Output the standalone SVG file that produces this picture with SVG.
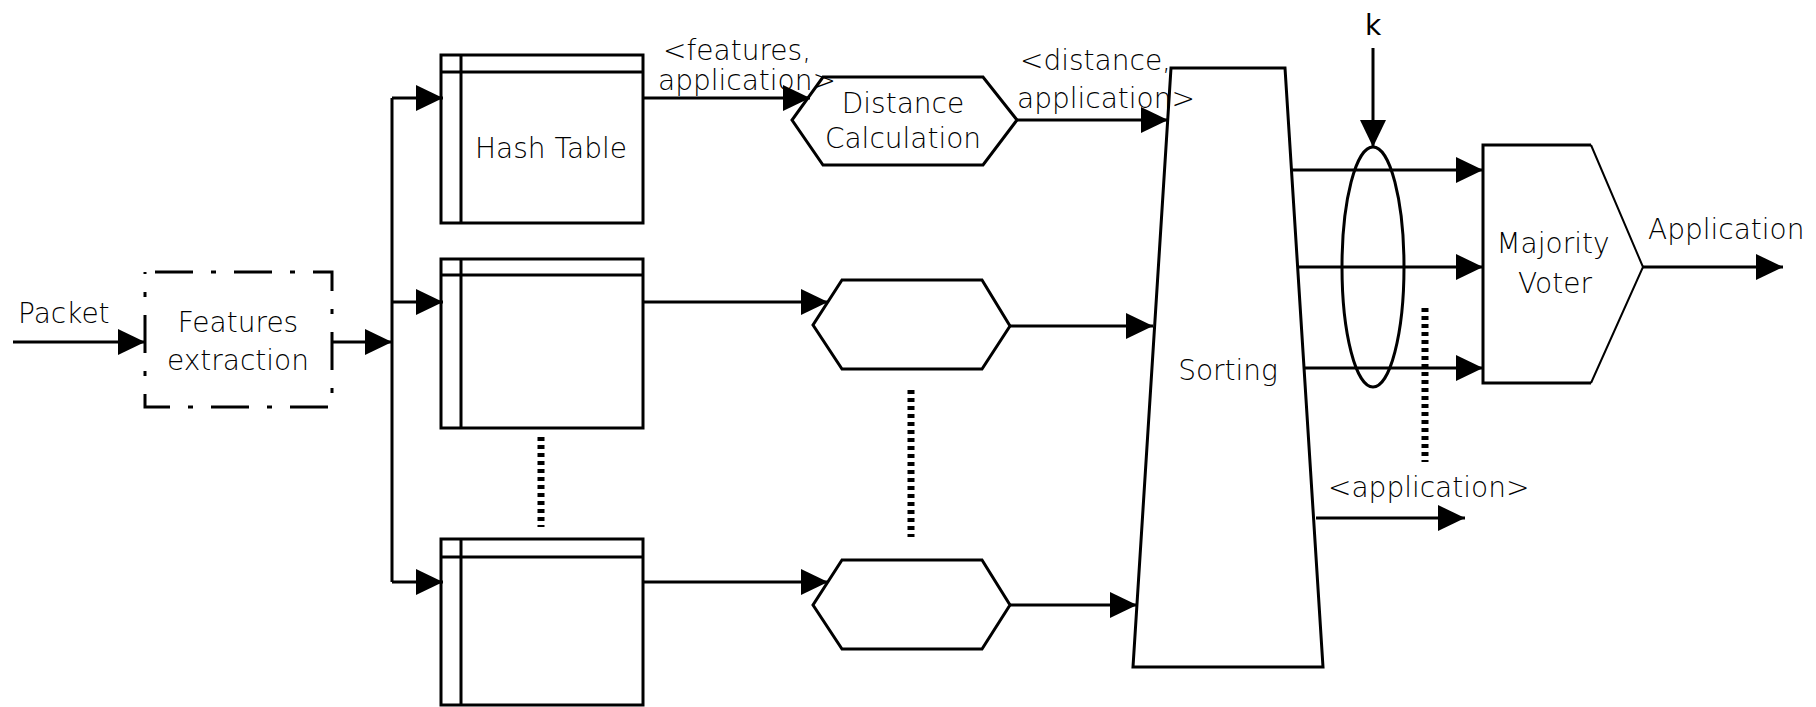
<svg xmlns="http://www.w3.org/2000/svg" width="1816" height="707" viewBox="0 0 1816 707">
  <style>
    .shape { fill: #fff; stroke: #000; stroke-width: 3; }
    .thin { fill: none; stroke: #000; stroke-width: 2; }
    .line { fill: none; stroke: #000; stroke-width: 3; }
    .ring { fill: none; stroke: #000; stroke-width: 3; }
    .wire { fill: none; stroke: #000; stroke-width: 3; marker-end: url(#arrow); }
    .dots { fill: none; stroke: #000; stroke-width: 7; stroke-dasharray: 4 4; }
    .dashdot { fill: none; stroke: #000; stroke-width: 3; stroke-dasharray: 38 18 5 18; }
    text { font-family: "DejaVu Sans", Verdana, sans-serif; font-size: 28px; font-weight: 200; fill: #000; }
    .c { text-anchor: middle; }
  </style>
  <defs>
    <marker id="arrow" markerUnits="userSpaceOnUse" markerWidth="28" markerHeight="28" refX="27" refY="13" orient="auto">
      <path d="M0,0 L27,13 L0,26 z" fill="#000"/>
    </marker>
  </defs>

  <rect width="1816" height="707" fill="#fff"/>

  <!-- Feature extraction block -->
  <g id="features">
    <rect class="dashdot" x="145" y="272" width="187" height="135" stroke-dashoffset="-10"/>
    <text class="c" x="238" y="332">Features</text>
    <text class="c" x="238" y="370">extraction</text>
  </g>

  <!-- Hash tables -->
  <g id="hash1">
    <rect class="shape" x="441" y="55" width="202" height="168"/>
    <path class="line" d="M461,55 V223 M441,72 H643"/>
    <text class="c" x="551" y="158">Hash Table</text>
  </g>
  <g id="hash2">
    <rect class="shape" x="441" y="259" width="202" height="169"/>
    <path class="line" d="M461,259 V428 M441,275 H643"/>
  </g>
  <g id="hash3">
    <rect class="shape" x="441" y="539" width="202" height="166"/>
    <path class="line" d="M461,539 V705 M441,557 H643"/>
  </g>

  <!-- Distance calculators -->
  <g id="dist1">
    <polygon class="shape" points="823,77 983,77 1017,120 983,165 823,165 792,120"/>
    <text class="c" x="903" y="113">Distance</text>
    <text class="c" x="903" y="148">Calculation</text>
  </g>
  <g id="dist2">
    <polygon class="shape" points="842,280 982,280 1010,326 982,369 842,369 813,325"/>
  </g>
  <g id="dist3">
    <polygon class="shape" points="842,560 982,560 1010,605 982,649 842,649 813,605"/>
  </g>

  <!-- Sorting stage -->
  <g id="sorting">
    <polygon class="shape" points="1171,68 1285,68 1323,667 1133,667"/>
    <text class="c" x="1228" y="380">Sorting</text>
  </g>

  <!-- Majority voter -->
  <g id="voter">
    <path class="line" d="M1591,145 H1483 V383 H1591"/>
    <path class="thin" d="M1591,145 L1643,267 L1591,383"/>
    <text class="c" x="1553" y="253">Majority</text>
    <text class="c" x="1555" y="293">Voter</text>
  </g>

  <!-- Connectors -->
  <g id="connectors">
    <path class="wire" d="M13,342 H145"/>
    <path class="wire" d="M332,342 H392"/>
    <path class="line" d="M392,98 V582"/>
    <path class="wire" d="M392,98 H443"/>
    <path class="wire" d="M392,302 H443"/>
    <path class="wire" d="M392,582 H443"/>

    <path class="wire" d="M643,98 H810"/>
    <path class="wire" d="M643,302 H828"/>
    <path class="wire" d="M643,582 H828"/>

    <path class="wire" d="M1017,120 H1168"/>
    <path class="wire" d="M1010,326 H1153"/>
    <path class="wire" d="M1010,605 H1137"/>

    <path class="wire" d="M1292,170 H1483"/>
    <path class="wire" d="M1299,267 H1483"/>
    <path class="wire" d="M1305,368 H1483"/>
    <path class="wire" d="M1316,518 H1465"/>
    <path class="wire" d="M1643,267 H1783"/>
    <path class="wire" d="M1373,48 V147"/>

    <!-- k-nearest selection ring -->
    <ellipse class="ring" cx="1373" cy="267" rx="31" ry="120"/>

    <path class="dots" d="M541,437 V527"/>
    <path class="dots" d="M911,390 V537"/>
    <path class="dots" d="M1425,308 V462"/>
  </g>

  <!-- Connector labels -->
  <g id="labels">
    <text x="18" y="323">Packet</text>
    <text x="663" y="60">&lt;features,</text>
    <text x="658" y="90">application&gt;</text>
    <text x="1020" y="70">&lt;distance,</text>
    <text x="1017" y="108">application&gt;</text>
    <text class="c" x="1373" y="35" style="font-weight:400">k</text>
    <text x="1648" y="239">Application</text>
    <text x="1328" y="497">&lt;application&gt;</text>
  </g>
</svg>
